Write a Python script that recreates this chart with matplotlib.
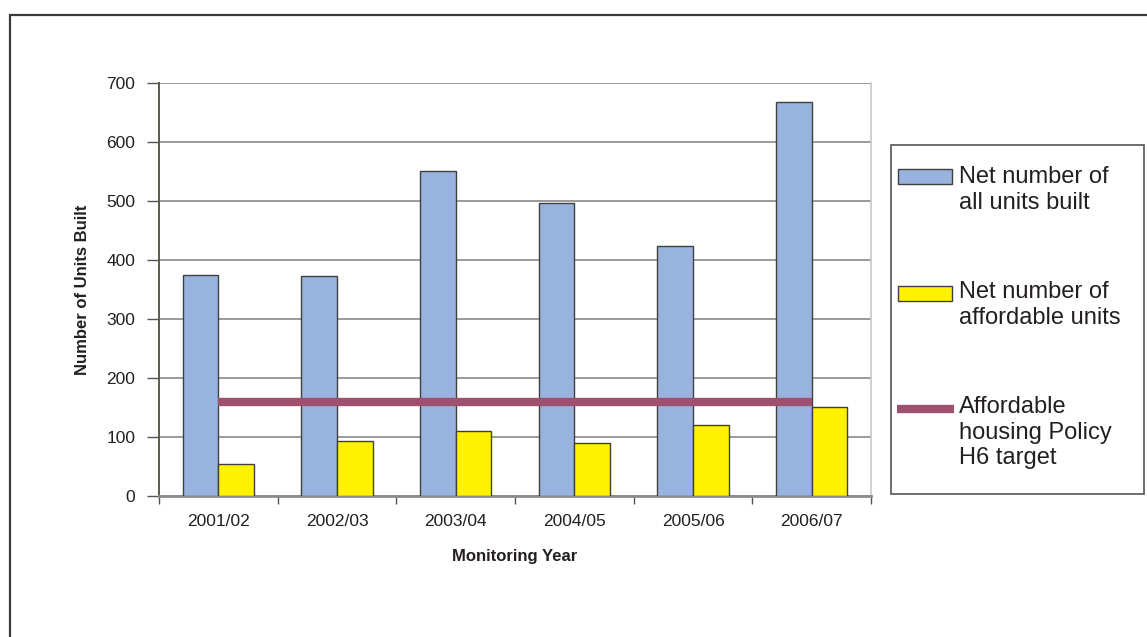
import matplotlib
matplotlib.use('Agg')
import matplotlib.pyplot as plt
from matplotlib.patches import Rectangle
from matplotlib.lines import Line2D
import numpy as np

plt.rcParams['font.family'] = ['Liberation Sans', 'DejaVu Sans']

# monitoring data
years = ['2001/02', '2002/03', '2003/04', '2004/05', '2005/06', '2006/07']
all_units = [374, 373, 551, 496, 424, 667]
affordable_units = [54, 94, 110, 90, 121, 151]
h6_target = [160, 160, 160, 160, 160, 160]

legend_labels = ['Net number of\nall units built',
                 'Net number of\naffordable units',
                 'Affordable\nhousing Policy\nH6 target']

blue = '#98B4DE'
yellow = '#FFF200'
target_col = '#A0506F'
edge = '#3F3F3F'
txt = '#231F20'

fig = plt.figure(figsize=(11.47, 6.37), dpi=100)
fig.patch.set_facecolor('white')

# outer frame (runs off the right and bottom of the page)
fig.patches.append(Rectangle((10 / 1147, -0.1), 1.2, 0.1 + (637 - 15) / 637,
                             transform=fig.transFigure, fill=False,
                             edgecolor='#3A3A3A', linewidth=1.6))

ax = fig.add_axes([159 / 1147, 1 - 496 / 637, (871 - 159) / 1147, (496 - 83) / 637])

x = np.arange(len(years))
w = 0.3
ax.bar(x - w / 2, all_units, width=w, color=blue, edgecolor=edge, linewidth=1.0, zorder=3)
ax.bar(x + w / 2, affordable_units, width=w, color=yellow, edgecolor=edge, linewidth=1.0, zorder=3)
ax.plot(x, h6_target, color=target_col, linewidth=6, solid_capstyle='butt', zorder=4)

ax.set_xlim(-0.5, len(years) - 0.5)
ax.set_ylim(0, 700)
ax.set_yticks(np.arange(0, 701, 100))
ax.yaxis.grid(True, color='#808080', linewidth=1.1)
ax.set_axisbelow(True)

ax.set_xticks(x)
ax.set_xticklabels(years, fontsize=12.5, color=txt)
ax.set_xticks(np.arange(-0.5, len(years) + 0.5, 1), minor=True)
ax.tick_params(axis='x', which='major', length=0, pad=13)
ax.tick_params(axis='x', which='minor', length=6, width=1, color='#555555', direction='out')
ax.tick_params(axis='y', length=9, width=1, color='#555555', labelsize=12.5,
               labelcolor=txt, pad=8)

ax.spines['top'].set_visible(False)
ax.spines['left'].set_color('#5A5A45')
ax.spines['left'].set_linewidth(1.4)
ax.spines['bottom'].set_color('#8C8C8C')
ax.spines['bottom'].set_linewidth(2)
ax.spines['right'].set_color('#C8C8C8')
ax.spines['right'].set_linewidth(1.2)

ax.set_xlabel('Monitoring Year', fontsize=12, fontweight='bold', color=txt, labelpad=14)
ax.set_ylabel('Number of Units Built', fontsize=12, fontweight='bold', color=txt, labelpad=12)

# legend box drawn in figure pixels
H = 637.0
W = 1147.0
def fx(px):
    return px / W
def fy(py):
    return 1 - py / H

fig.patches.append(Rectangle((fx(891), fy(494)), fx(1144) - fx(891), fy(145) - fy(494),
                             transform=fig.transFigure, fill=False,
                             edgecolor='#555555', linewidth=1.2))
fig.patches.append(Rectangle((fx(898), fy(184)), fx(54), 15 / H, transform=fig.transFigure,
                             facecolor=blue, edgecolor=edge, linewidth=1.0))
fig.patches.append(Rectangle((fx(898), fy(301)), fx(54), 15 / H, transform=fig.transFigure,
                             facecolor=yellow, edgecolor=edge, linewidth=1.0))
fig.lines.append(Line2D([fx(897), fx(954)], [fy(409), fy(409)], transform=fig.transFigure,
                        color=target_col, linewidth=6, solid_capstyle='butt'))

for label, top in zip(legend_labels, [166, 281, 396]):
    fig.text(fx(959), fy(top), label, fontsize=17, color=txt, va='top', ha='left',
             linespacing=1.22)

plt.savefig('out.png', dpi=100, facecolor='white')
